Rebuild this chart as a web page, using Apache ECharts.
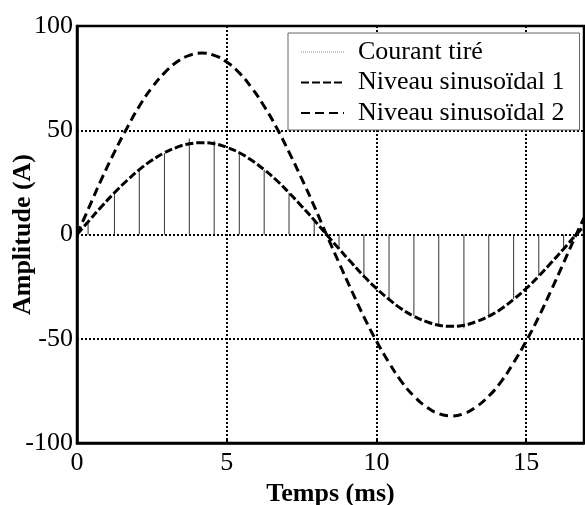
<!DOCTYPE html>
<html>
<head>
<meta charset="utf-8">
<script src="https://cdn.jsdelivr.net/npm/echarts@6/dist/echarts.min.js"></script>
<style>html,body{margin:0;padding:0;background:#fff;}#c{width:585px;height:505px;}</style>
</head>
<body>
<div id="c"></div>
<script>
// Sample times (ms) for the sinusoidal levels
var times = [0, 0.42, 0.83, 1.25, 1.67, 2.08, 2.5, 2.92, 3.33, 3.75, 4.17, 4.58, 5, 5.42, 5.83, 6.25, 6.67, 7.08, 7.5, 7.92,
             8.33, 8.75, 9.17, 9.58, 10, 10.42, 10.83, 11.25, 11.67, 12.08, 12.5, 12.92, 13.33, 13.75, 14.17, 14.58, 15, 15.42, 15.83, 16.25, 16.67, 16.93];
var niveau1 = [0, 6.9, 13.6, 20.0, 25.9, 31.1, 35.6, 39.2, 41.8, 43.5, 44, 43.5, 41.8, 39.2, 35.6, 31.1, 25.9, 20.0, 13.6, 6.9,
               0, -6.9, -13.6, -20.0, -25.9, -31.1, -35.6, -39.2, -41.8, -43.5, -44, -43.5, -41.8, -39.2, -35.6, -31.1, -25.9, -20.0, -13.6, -6.9, 0, 4];
var niveau2 = [0, 13.6, 26.9, 39.5, 51.1, 61.5, 70.4, 77.5, 82.7, 85.9, 87, 85.9, 82.7, 77.5, 70.4, 61.5, 51.1, 39.5, 26.9, 13.6,
               0, -13.6, -26.9, -39.5, -51.1, -61.5, -70.4, -77.5, -82.7, -85.9, -87, -85.9, -82.7, -77.5, -70.4, -61.5, -51.1, -39.5, -26.9, -13.6, 0, 8];
// Drawn current pulses (time in ms, amplitude in A)
var pulseTimes = [0.37, 1.25, 2.08, 2.92, 3.75, 4.58, 5.42, 6.25, 7.08, 7.92, 8.75, 9.58, 10.42, 11.25, 12.08, 12.92, 13.75, 14.58, 15.42, 16.25];
var pulseValues = [6, 20, 31, 39, 46, 45, 39, 31, 20, 7, -7, -20, -31, -39, -44, -45, -39, -31, -20, -7];
var xTicks = [0, 5, 10, 15];
var yTicks = [-100, -50, 0, 50, 100];

var s1 = times.map(function (t, i) { return [t, niveau1[i]]; });
var s2 = times.map(function (t, i) { return [t, niveau2[i]]; });

var FONT = 'Liberation Serif';
var series = [];
pulseTimes.forEach(function (t, i) {
  series.push({name: 'Courant tiré', type: 'line', data: [[t, 0], [t, pulseValues[i]]], symbol: 'none',
    lineStyle: {color: '#333', width: 1}, itemStyle: {color: '#333'}, z: 2});
});
series.push({name: 'Niveau sinusoïdal 1', type: 'line', data: s1, smooth: true, symbol: 'none',
  lineStyle: {color: '#000', width: 3, type: [8, 3]}, itemStyle: {color: '#000'}, z: 3});
series.push({name: 'Niveau sinusoïdal 2', type: 'line', data: s2, smooth: true, symbol: 'none',
  lineStyle: {color: '#000', width: 3, type: [9, 5]}, itemStyle: {color: '#000'}, z: 3});

var chart = echarts.init(document.getElementById('c'), null, {renderer: 'canvas'});
chart.setOption({
  animation: false,
  backgroundColor: '#fff',
  grid: {left: 77, top: 26, width: 507, height: 417, show: true, borderColor: '#000', borderWidth: 2.5,
         backgroundColor: 'transparent', containLabel: false, outerBoundsMode: 'none'},
  legend: {
    orient: 'vertical', left: 288, top: 33,
    padding: [6, 15, 4, 12], itemGap: 4.5, itemWidth: 43, itemHeight: 14,
    backgroundColor: '#fff', borderColor: '#666', borderWidth: 1,
    textStyle: {fontFamily: FONT, fontSize: 26, color: '#000', lineHeight: 26, padding: [0, 0, 0, 9]},
    data: [
      {name: 'Courant tiré', itemStyle: {opacity: 0}, lineStyle: {type: 'dotted', color: '#888', width: 1}},
      {name: 'Niveau sinusoïdal 1', itemStyle: {opacity: 0}},
      {name: 'Niveau sinusoïdal 2', itemStyle: {opacity: 0}}
    ]
  },
  xAxis: {
    type: 'value', min: 0, max: 16.93, interval: 5,
    name: 'Temps (ms)', nameLocation: 'middle', nameGap: 36,
    nameTextStyle: {fontFamily: FONT, fontSize: 26, fontWeight: 'bold', color: '#000'},
    axisLine: {show: true, onZero: false, lineStyle: {color: '#000', width: 2.5}},
    axisTick: {show: true, inside: true, length: 4, lineStyle: {color: '#000', width: 2}},
    axisLabel: {fontFamily: FONT, fontSize: 26, color: '#000', margin: 7, showMaxLabel: false,
                formatter: function (v) { return xTicks.indexOf(v) >= 0 ? String(v) : ''; }},
    splitLine: {show: true, lineStyle: {color: '#000', width: 2, type: [2, 2]}}
  },
  yAxis: {
    type: 'value', min: -100, max: 100, interval: 50,
    name: 'Amplitude (A)', nameLocation: 'middle', nameGap: 41, nameRotate: 90, nameMoveOverlap: false,
    nameTextStyle: {fontFamily: FONT, fontSize: 26, fontWeight: 'bold', color: '#000'},
    axisLine: {show: true, onZero: false, lineStyle: {color: '#000', width: 2.5}},
    axisTick: {show: false},
    axisLabel: {fontFamily: FONT, fontSize: 26, color: '#000', margin: 4,
                formatter: function (v) { return yTicks.indexOf(v) >= 0 ? String(v) : ''; }},
    splitLine: {show: true, lineStyle: {color: '#000', width: 2, type: [2, 2]}}
  },
  series: series
});
</script>
</body>
</html>
